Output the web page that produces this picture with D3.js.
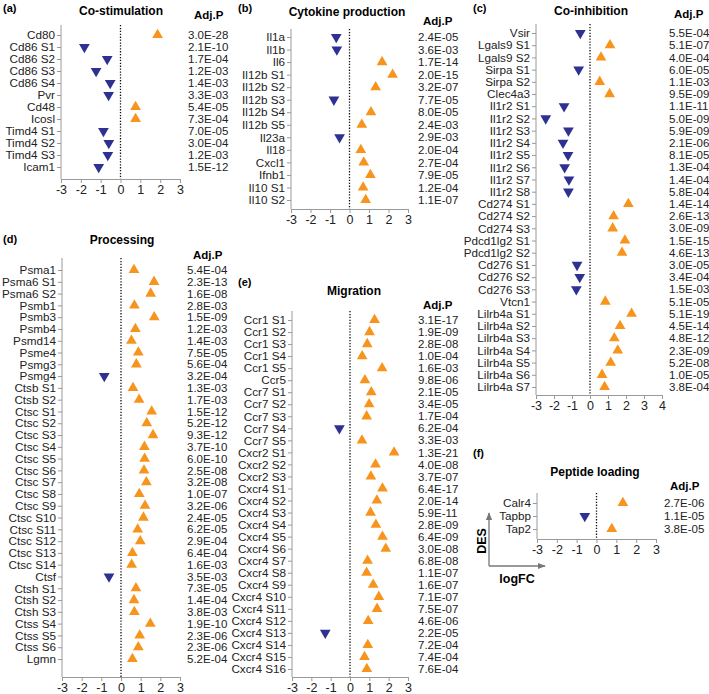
<!DOCTYPE html>
<html>
<head>
<meta charset="utf-8">
<script src="https://cdn.jsdelivr.net/npm/d3@7"></script>
<style>
  body { margin: 0; background: #fff; }
  svg { font-family: "Liberation Sans", Arial, sans-serif; }
  .axis path, .axis line { stroke: #9a9a9a; }
  .axis text { fill: #222; }
</style>
</head>
<body>
<div id="chart"></div>
<script>
// DATA
var ticks6 = [-3, -2, -1, 0, 1, 2, 3];
var ticks7 = [-3, -2, -1, 0, 1, 2, 3, 4];

var coStimGenes = ["Cd80", "Cd86 S1", "Cd86 S2", "Cd86 S3", "Cd86 S4", "Pvr", "Cd48", "Icosl",
  "Timd4 S1", "Timd4 S2", "Timd4 S3", "Icam1"];
var coStimFC = [1.87, -1.82, -0.67, -1.23, -0.52, -0.6, 0.76, 0.76, -0.86, -0.59, -0.64, -1.1];
var coStimP = ["3.0E-28", "2.1E-10", "1.7E-04", "1.2E-03", "1.4E-03", "3.3E-03", "5.4E-05", "7.3E-04",
  "7.0E-05", "3.0E-04", "1.2E-03", "1.5E-12"];

var cytoGenes = ["Il1a", "Il1b", "Il6", "Il12b S1", "Il12b S2", "Il12b S3", "Il12b S4", "Il12b S5",
  "Il23a", "Il18", "Cxcl1", "Ifnb1", "Il10 S1", "Il10 S2"];
var cytoFC = [-0.68, -0.65, 1.67, 2.21, 1.34, -0.8, 1.1, 0.63, -0.51, 0.58, 0.73, 1.07, 0.7, 0.83];
var cytoP = ["2.4E-05", "3.6E-03", "1.7E-14", "2.0E-15", "3.2E-07", "7.7E-05", "8.0E-05", "2.4E-03",
  "2.9E-03", "2.0E-04", "2.7E-04", "7.9E-05", "1.2E-04", "1.1E-07"];

var coInhGenes = ["Vsir", "Lgals9 S1", "Lgals9 S2", "Sirpa S1", "Sirpa S2", "Clec4a3",
  "Il1r2 S1", "Il1r2 S2", "Il1r2 S3", "Il1r2 S4", "Il1r2 S5", "Il1r2 S6", "Il1r2 S7", "Il1r2 S8",
  "Cd274 S1", "Cd274 S2", "Cd274 S3", "Pdcd1lg2 S1", "Pdcd1lg2 S2", "Cd276 S1", "Cd276 S2", "Cd276 S3",
  "Vtcn1", "Lilrb4a S1", "Lilrb4a S2", "Lilrb4a S3", "Lilrb4a S4", "Lilrb4a S5", "Lilrb4a S6", "Lilrb4a S7"];
var coInhFC = [-0.54, 1.11, 0.61, -0.63, 0.54, 1.09,
  -1.44, -2.46, -1.2, -1.5, -1.22, -1.41, -1.17, -1.2,
  2.13, 1.31, 1.26, 1.94, 1.78, -0.72, -0.57, -0.76,
  0.85, 2.31, 1.67, 1.35, 1.54, 1.15, 0.67, 0.81];
var coInhP = ["5.5E-04", "5.1E-07", "4.0E-04", "6.0E-05", "1.1E-03", "9.5E-09",
  "1.1E-11", "5.0E-09", "5.9E-09", "2.1E-06", "8.1E-05", "1.3E-04", "1.4E-04", "5.8E-04",
  "1.4E-14", "2.6E-13", "3.0E-09", "1.5E-15", "4.6E-13", "3.0E-05", "3.4E-04", "1.5E-03",
  "5.1E-05", "5.1E-19", "4.5E-14", "4.8E-12", "2.3E-09", "5.2E-08", "1.0E-05", "3.8E-04"];

var procGenes = ["Psma1", "Psma6 S1", "Psma6 S2", "Psmb1", "Psmb3", "Psmb4", "Psmd14", "Psme4", "Psmg3",
  "Psmg4", "Ctsb S1", "Ctsb S2", "Ctsc S1", "Ctsc S2", "Ctsc S3", "Ctsc S4", "Ctsc S5", "Ctsc S6",
  "Ctsc S7", "Ctsc S8", "Ctsc S9", "Ctsc S10", "Ctsc S11", "Ctsc S12", "Ctsc S13", "Ctsc S14", "Ctsf",
  "Ctsh S1", "Ctsh S2", "Ctsh S3", "Ctss S4", "Ctss S5", "Ctss S6", "Lgmn"];
var procFC = [0.66, 1.68, 1.51, 0.68, 1.69, 0.73, 0.53, 0.88, 0.78,
  -0.85, 0.61, 0.92, 1.56, 1.31, 1.63, 1.19, 1.2, 1.17,
  1.29, 0.93, 1.22, 1.14, 0.85, 0.98, 0.58, 0.54, -0.61,
  0.76, 0.66, 0.68, 1.49, 0.95, 0.88, 0.58];
var procP = ["5.4E-04", "2.3E-13", "1.6E-08", "2.8E-03", "1.5E-09", "1.2E-03", "1.4E-03", "7.5E-05", "5.6E-04",
  "3.2E-04", "1.3E-03", "1.7E-03", "1.5E-12", "5.2E-12", "9.3E-12", "3.7E-10", "6.0E-10", "2.5E-08",
  "3.2E-08", "1.0E-07", "3.2E-06", "2.4E-05", "6.2E-05", "2.9E-04", "6.4E-04", "1.6E-03", "3.5E-03",
  "7.3E-05", "1.4E-04", "3.8E-03", "1.9E-10", "2.3E-06", "2.3E-06", "5.2E-04"];

var migGenes = ["Ccr1 S1", "Ccr1 S2", "Ccr1 S3", "Ccr1 S4", "Ccr1 S5", "Ccr5",
  "Ccr7 S1", "Ccr7 S2", "Ccr7 S3", "Ccr7 S4", "Ccr7 S5", "Cxcr2 S1", "Cxcr2 S2", "Cxcr2 S3",
  "Cxcr4 S1", "Cxcr4 S2", "Cxcr4 S3", "Cxcr4 S4", "Cxcr4 S5", "Cxcr4 S6", "Cxcr4 S7", "Cxcr4 S8",
  "Cxcr4 S9", "Cxcr4 S10", "Cxcr4 S11", "Cxcr4 S12", "Cxcr4 S13", "Cxcr4 S14", "Cxcr4 S15", "Cxcr4 S16"];
var migFC = [1.27, 1.01, 0.89, 0.63, 1.66, 0.77,
  1.1, 0.99, 0.86, -0.55, 0.62, 2.28, 1.32, 1.08,
  1.68, 1.39, 1.06, 1.34, 1.68, 1.85, 0.91, 0.86,
  1.2, 1.49, 1.4, 0.94, -1.28, 0.92, 0.75, 0.87];
var migP = ["3.1E-17", "1.9E-09", "2.8E-08", "1.0E-04", "1.6E-03", "9.8E-06",
  "2.1E-05", "3.4E-05", "1.7E-04", "6.2E-04", "3.3E-03", "1.3E-21", "4.0E-08", "3.7E-07",
  "6.4E-17", "2.0E-14", "5.9E-11", "2.8E-09", "6.4E-09", "3.0E-08", "6.8E-08", "1.1E-07",
  "1.6E-07", "7.1E-07", "7.5E-07", "4.6E-06", "2.2E-05", "7.2E-04", "7.4E-04", "7.6E-04"];

var pepGenes = ["Calr4", "Tapbp", "Tap2"];
var pepFC = [1.33, -0.59, 0.77];
var pepP = ["2.7E-06", "1.1E-05", "3.8E-05"];

var upColor = "#f7941d";
var downColor = "#2e3192";

// panel layout (positions only)
var panels = [
  {tag: "(a)", title: "Co-stimulation", genes: coStimGenes, fc: coStimFC, p: coStimP, ticks: ticks6,
   x0: 61, x1: 180, yTop: 25, yAxis: 179, row0: 35, row1: 167, pX: 188, headX: 194, headY: 15,
   titleX: 121, titleY: 11, tagX: 3, tagY: 8},
  {tag: "(b)", title: "Cytokine production", genes: cytoGenes, fc: cytoFC, p: cytoP, ticks: ticks6,
   x0: 291, x1: 408, yTop: 29, yAxis: 209, row0: 37, row1: 200, pX: 418, headX: 423, headY: 21,
   titleX: 347, titleY: 12, tagX: 238, tagY: 8},
  {tag: "(c)", title: "Co-inhibition", genes: coInhGenes, fc: coInhFC, p: coInhP, ticks: ticks7,
   x0: 536, x1: 662, yTop: 24, yAxis: 395, row0: 33, row1: 387, pX: 669, headX: 674, headY: 14,
   titleX: 591, titleY: 11, tagX: 473, tagY: 8},
  {tag: "(d)", title: "Processing", genes: procGenes, fc: procFC, p: procP, ticks: ticks6,
   x0: 62, x1: 180, yTop: 258, yAxis: 677, row0: 270, row1: 659, pX: 187, headX: 193, headY: 255,
   titleX: 122, titleY: 240, tagX: 3, tagY: 239},
  {tag: "(e)", title: "Migration", genes: migGenes, fc: migFC, p: migP, ticks: ticks6,
   x0: 292, x1: 408, yTop: 311, yAxis: 677, row0: 320, row1: 669, pX: 418, headX: 423, headY: 305,
   titleX: 354, titleY: 291, tagX: 238, tagY: 282},
  {tag: "(f)", title: "Peptide loading", genes: pepGenes, fc: pepFC, p: pepP, ticks: ticks6,
   x0: 537, x1: 656, yTop: 493, yAxis: 539, row0: 503, row1: 529, pX: 664, headX: 670, headY: 486,
   titleX: 595, titleY: 472, tagX: 473, tagY: 453}
];

var svg = d3.select("#chart")
  .append("svg")
  .attr("width", 709)
  .attr("height", 694);

var defs = svg.append("defs");
defs.append("marker")
  .attr("id", "arrow")
  .attr("viewBox", "0 0 10 10")
  .attr("refX", 9)
  .attr("refY", 5)
  .attr("markerWidth", 6)
  .attr("markerHeight", 6)
  .attr("orient", "auto")
  .append("path")
  .attr("d", "M0,1 L10,5 L0,9 z")
  .attr("fill", "#777");

function drawPanel(p) {
  var x = d3.scaleLinear().domain([p.ticks[0], p.ticks[p.ticks.length - 1]]).range([p.x0, p.x1]);
  var y = d3.scalePoint().domain(p.genes).range([p.row0, p.row1]);
  var g = svg.append("g");

  // x axis
  g.append("g")
    .attr("class", "axis")
    .attr("transform", "translate(0," + p.yAxis + ")")
    .call(d3.axisBottom(x).tickValues(p.ticks).tickSize(4).tickSizeOuter(0).tickPadding(2)
      .tickFormat(function(d) { return String(d); }))
    .attr("font-family", null)
    .selectAll("text")
    .attr("font-size", 12.5);

  // y axis
  var ya = g.append("g")
    .attr("class", "axis")
    .attr("transform", "translate(" + p.x0 + ",0)")
    .call(d3.axisLeft(y).tickSize(4).tickPadding(2))
    .attr("font-family", null);
  ya.select(".domain").remove();
  ya.selectAll("text").attr("font-size", 11.7);
  g.append("line")
    .attr("x1", p.x0).attr("x2", p.x0)
    .attr("y1", p.yTop).attr("y2", p.yAxis)
    .attr("stroke", "#9a9a9a");

  // zero line
  g.append("line")
    .attr("x1", x(0)).attr("x2", x(0))
    .attr("y1", p.yTop).attr("y2", p.yAxis)
    .attr("stroke", "#111")
    .attr("stroke-width", 1.3)
    .attr("stroke-dasharray", "1.3,1.6");

  // triangles
  var tri = d3.symbol().type(d3.symbolTriangle).size(50);
  g.selectAll("path.mark")
    .data(p.genes)
    .enter()
    .append("path")
    .attr("class", "mark")
    .attr("d", tri)
    .attr("transform", function(d, i) {
      return "translate(" + x(p.fc[i]) + "," + y(d) + ") rotate(" + (p.fc[i] < 0 ? 180 : 0) + ")";
    })
    .attr("fill", function(d, i) { return p.fc[i] < 0 ? downColor : upColor; });

  // adj p values
  g.selectAll("text.pval")
    .data(p.genes)
    .enter()
    .append("text")
    .attr("class", "pval")
    .attr("x", p.pX)
    .attr("y", function(d) { return y(d); })
    .attr("dy", "0.36em")
    .attr("font-size", 11.5)
    .attr("fill", "#222")
    .text(function(d, i) { return p.p[i]; });

  g.append("text")
    .attr("x", p.headX).attr("y", p.headY).attr("dy", "0.36em")
    .attr("font-size", 11.5).attr("font-weight", "bold")
    .text("Adj.P");

  g.append("text")
    .attr("x", p.titleX).attr("y", p.titleY).attr("dy", "0.36em")
    .attr("text-anchor", "middle")
    .attr("font-size", 12).attr("font-weight", "bold")
    .text(p.title);

  g.append("text")
    .attr("x", p.tagX).attr("y", p.tagY).attr("dy", "0.36em")
    .attr("font-size", 11).attr("font-weight", "bold")
    .text(p.tag);
}

panels.forEach(drawPanel);

// DES / logFC key
var key = svg.append("g");
key.append("line")
  .attr("x1", 489).attr("y1", 566).attr("x2", 489).attr("y2", 513)
  .attr("stroke", "#777").attr("stroke-width", 1.3)
  .attr("marker-end", "url(#arrow)");
key.append("line")
  .attr("x1", 489).attr("y1", 566).attr("x2", 545).attr("y2", 566)
  .attr("stroke", "#777").attr("stroke-width", 1.3)
  .attr("marker-end", "url(#arrow)");
key.append("text")
  .attr("transform", "translate(481,541) rotate(-90)")
  .attr("text-anchor", "middle")
  .attr("dy", "0.36em")
  .attr("font-size", 12.5).attr("font-weight", "bold")
  .text("DES");
key.append("text")
  .attr("x", 517).attr("y", 578).attr("dy", "0.36em")
  .attr("text-anchor", "middle")
  .attr("font-size", 12.5).attr("font-weight", "bold")
  .text("logFC");
</script>
</body>
</html>
